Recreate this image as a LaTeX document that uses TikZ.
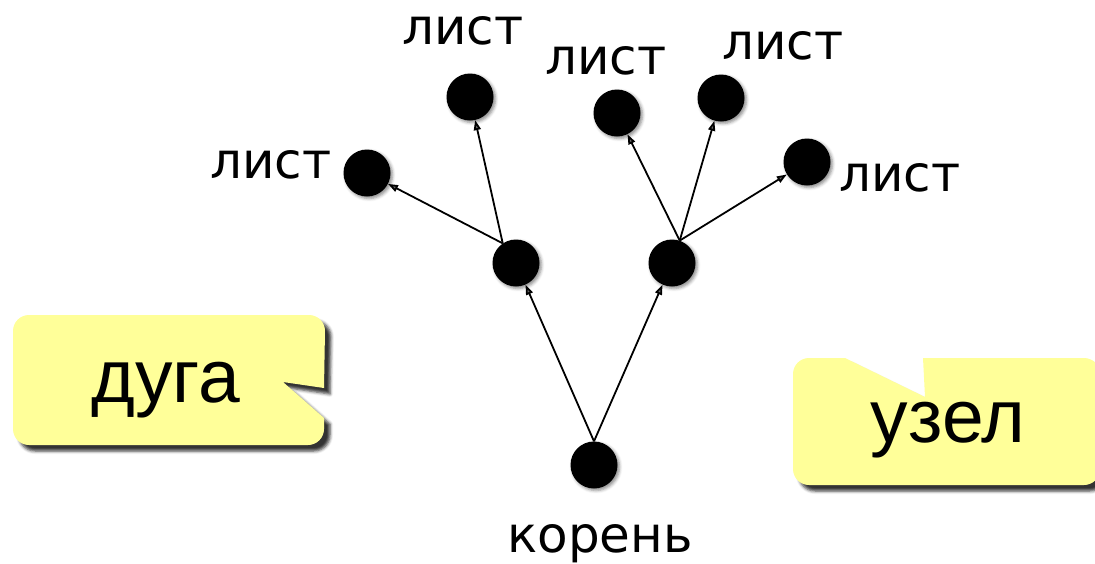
\documentclass[tikz,border=0pt]{standalone}
\usepackage{fontspec}
\setmainfont{DejaVu Sans}
\newfontfamily\callfont{Liberation Sans}
\usetikzlibrary{arrows.meta,shadows.blur}
\definecolor{callyellow}{HTML}{FFFF99}

\begin{document}
\begin{tikzpicture}[
  x=1pt, y=-1pt,
  v/.style={circle, fill=black, minimum size=47pt, inner sep=0pt,
    blur shadow={shadow xshift=2pt, shadow yshift=-2pt, shadow blur radius=3pt, shadow opacity=45}},
  e/.style={-{Triangle[length=10pt,width=7pt]}, line width=1.8pt},
  lab/.style={anchor=base, inner sep=0pt, font=\fontsize{50}{60}\selectfont},
  call/.style={fill=callyellow,
    blur shadow={shadow xshift=6pt, shadow yshift=-6pt, shadow blur radius=3pt, shadow opacity=80}},
  calltext/.style={anchor=base, inner sep=0pt, font=\callfont\fontsize{75}{90}\selectfont}
]
\useasboundingbox (0,0) rectangle (1095,563);

\path[call] (29,315) -- (309,315) arc[start angle=-90, end angle=0, radius=16]
  -- (324,388) -- (283,382) -- (324,418)
  -- (324,429) arc[start angle=0, end angle=90, radius=16]
  -- (29,445) arc[start angle=90, end angle=180, radius=16]
  -- (13,331) arc[start angle=180, end angle=270, radius=16] -- cycle;
\node[calltext] (arc) at (166,402) {дуга};

\path[call] (809,358) -- (845,358) -- (925,397) -- (923,358)
  -- (1084,358) arc[start angle=-90, end angle=0, radius=16]
  -- (1100,469) arc[start angle=0, end angle=90, radius=16]
  -- (809,485) arc[start angle=90, end angle=180, radius=16]
  -- (793,374) arc[start angle=180, end angle=270, radius=16] -- cycle;
\node[calltext] (knot) at (948,442) {узел};

\node[v] (root) at (594,465) {};
\node[v] (m1) at (516,263) {};
\node[v] (m2) at (672,263) {};
\node[v] (l1) at (367,173) {};
\node[v] (l2) at (470,97) {};
\node[v] (l3) at (617,113) {};
\node[v] (l4) at (721,98) {};
\node[v] (l5) at (807,162) {};

\draw[e] (root.90) -- (m1);
\draw[e] (root.90) -- (m2);
\draw[e] (m1.124) -- (l1);
\draw[e] (m1.124) -- (l2);
\draw[e] (m2.71) -- (l3);
\draw[e] (m2.71) -- (l4);
\draw[e] (m2.71) -- (l5);

\node[lab] (t1) at (271,178) {лист};
\node[lab] (t2) at (463,44) {лист};
\node[lab] (t3) at (606,74) {лист};
\node[lab] (t4) at (783,59) {лист};
\node[lab] (t5) at (900,191) {лист};
\node[lab] (troot) at (600,552) {корень};
\end{tikzpicture}
\end{document}
